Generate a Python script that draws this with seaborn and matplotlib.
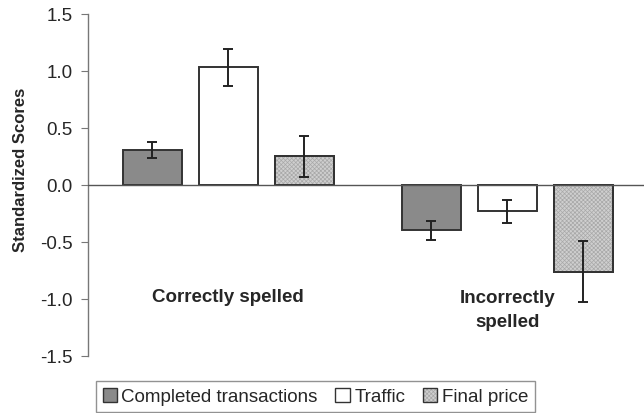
import matplotlib
matplotlib.use("Agg")
import matplotlib.pyplot as plt
from matplotlib.patches import Patch, Rectangle
from matplotlib.legend_handler import HandlerTuple
import seaborn as sns
import pandas as pd

# Data
groups = ["Correctly spelled", "Incorrectly spelled"]
measures = ["Completed transactions", "Traffic", "Final price"]
completed = [0.31, -0.40]
traffic = [1.03, -0.23]
final_price = [0.25, -0.76]
completed_err = [0.07, 0.08]
traffic_err = [0.16, 0.10]
final_price_err = [0.18, 0.27]
yticks = [-1.5, -1.0, -0.5, 0.0, 0.5, 1.0, 1.5]

values = {"Completed transactions": completed, "Traffic": traffic, "Final price": final_price}
errors = {"Completed transactions": completed_err, "Traffic": traffic_err, "Final price": final_price_err}

rows = []
for m in measures:
    for g, v in zip(groups, values[m]):
        rows.append({"group": g, "measure": m, "score": v})
df = pd.DataFrame(rows)

sns.set_style("white")
plt.rcParams["font.family"] = ["Liberation Sans", "DejaVu Sans"]
plt.rcParams["hatch.linewidth"] = 0.5

fig = plt.figure(figsize=(6.44, 4.14), dpi=100)
ax = fig.add_axes([0.137, 0.138, 0.863, 0.826])

face = {"Completed transactions": "#8a8a8a", "Traffic": "#ffffff", "Final price": "#cfcfcf"}
HATCH = "xxxxxxxx"
HATCH_COLOR = "#a8a8a8"

sns.barplot(data=df, x="group", y="score", hue="measure", hue_order=measures,
            order=groups, palette=face, width=0.816, gap=0.224, errorbar=None,
            edgecolor="#333333", linewidth=1.4, ax=ax, legend=False)

# fine light hatch for the price bars, error bars from the bar centres
for m, cont in zip(measures, ax.containers):
    xs = []
    for p in cont:
        if m == "Final price":
            ov = Rectangle(p.get_xy(), p.get_width(), p.get_height(), fill=False,
                           hatch=HATCH, edgecolor=HATCH_COLOR, lw=0, zorder=p.get_zorder() + 0.01)
            ax.add_patch(ov)
            frame = Rectangle(p.get_xy(), p.get_width(), p.get_height(), fill=False,
                              edgecolor="#333333", lw=1.4, zorder=p.get_zorder() + 0.02)
            ax.add_patch(frame)
        xs.append(p.get_x() + p.get_width() / 2)
    ax.errorbar(xs, values[m], yerr=errors[m], fmt="none", ecolor="#222222",
                elinewidth=1.4, capsize=3.8, capthick=1.4, zorder=5)

ax.axhline(0, color="#555555", lw=1.0, zorder=4)

ax.set_xlim(-0.502, 1.49)
ax.set_ylim(-1.5, 1.5)
ax.set_yticks(yticks)
ax.set_yticklabels([f"{t:.1f}" for t in yticks], fontsize=13.5)
ax.set_xticks([])
ax.set_xlabel("")
ax.set_ylabel("Standardized Scores", fontsize=12, fontweight="bold")
ax.yaxis.set_label_coords(-0.108, 0.547)
for s in ["top", "right", "bottom"]:
    ax.spines[s].set_visible(False)
ax.spines["left"].set_color("#777777")
ax.spines["left"].set_linewidth(1.0)
ax.tick_params(axis="y", direction="out", length=5, color="#777777", left=True, pad=6)

ax.text(0.0, -0.98, "Correctly spelled", ha="center", va="center",
        fontsize=13.5, fontweight="bold")
ax.text(1.0, -1.096, "Incorrectly\nspelled", ha="center", va="center",
        fontsize=13.5, fontweight="bold", linespacing=1.55)

handles = [Patch(facecolor=face["Completed transactions"], edgecolor="#333333", lw=1.0),
           Patch(facecolor=face["Traffic"], edgecolor="#333333", lw=1.0),
           (Patch(facecolor=face["Final price"], edgecolor=HATCH_COLOR, lw=0, hatch=HATCH),
            Patch(fill=False, edgecolor="#333333", lw=1.0))]
leg = fig.legend(handles, measures, loc="lower left", bbox_to_anchor=(0.149, 0.003),
                 ncol=3, frameon=True, fancybox=False, edgecolor="#777777",
                 fontsize=13.5, handlelength=0.75, handleheight=0.75, handletextpad=0.25,
                 columnspacing=0.95, borderpad=0.35, borderaxespad=0,
                 handler_map={tuple: HandlerTuple(ndivide=1, pad=0)})
leg.get_frame().set_linewidth(1.0)

fig.savefig("out.png", dpi=100)
